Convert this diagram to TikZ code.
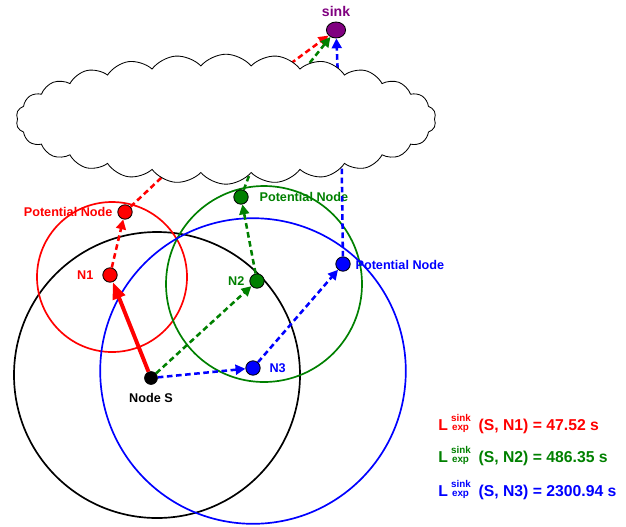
\documentclass[tikz,border=0pt]{standalone}
\usepackage{fontspec}
\setmainfont{Liberation Sans}
\usetikzlibrary{arrows.meta,shapes.symbols,shapes.geometric}

\definecolor{dkgreen}{RGB}{0,128,0}
\definecolor{sinkpurple}{RGB}{128,0,128}

\tikzset{
  sensor/.style={circle,draw=black,line width=0.6pt,minimum size=0.36cm,inner sep=0pt},
  hop/.style={line width=1.8pt,dash pattern=on 4pt off 2.5pt,-{Triangle[length=7pt,width=7pt]}},
  hoplink/.style={line width=1.8pt,dash pattern=on 4pt off 2.5pt},
  radiorange/.style={line width=1.2pt},
  lbl/.style={font=\bfseries\fontsize{9}{10}\selectfont},
  legendtxt/.style={anchor=west,inner sep=0pt,font=\bfseries\fontsize{11.2}{13}\selectfont}
}

% L with sink over exp
\newcommand{\Lexp}{L\hspace{0.2em}{\fontsize{7}{7}\selectfont\rlap{\raisebox{6.5pt}{sink}}\hspace{0.1em}exp\hspace{0.1em}}\hspace{0.55em}}

\begin{document}
\begin{tikzpicture}
    \useasboundingbox (0,0) rectangle (15.65,-13.15);

    % Draw the ranges
    \draw[radiorange,black] (3.925,-9.375) circle (3.575);
    \draw[radiorange,red] (2.8,-6.925) circle (1.875);
    \draw[radiorange,dkgreen] (6.6,-7.1) circle (2.45);
    \draw[radiorange,blue] (6.325,-9.275) circle (3.82);

    % Draw the nodes
    \node[sensor,fill=black,minimum size=0.32cm,label={[lbl,black,label distance=1mm]below:Node S}] (S) at (3.775,-9.45) {};
    \node[sensor,fill=red,label={[lbl,red,label distance=1mm]left:N1}] (N1) at (2.75,-6.875) {};
    \node[sensor,fill=red,label={[lbl,red]left:Potential Node}] (P1) at (3.125,-5.3) {};
    \node[sensor,fill=dkgreen,label={[lbl,dkgreen]left:N2}] (N2) at (6.425,-7.025) {};
    \node[sensor,fill=dkgreen,label={[lbl,dkgreen,label distance=1.5mm]right:Potential Node}] (P2) at (6.025,-4.925) {};
    \node[sensor,fill=blue,label={[lbl,blue,label distance=1mm]right:N3}] (N3) at (6.325,-9.2) {};
    \node[sensor,fill=blue,label={[lbl,blue,yshift=-1pt]right:Potential Node}] (P3) at (8.575,-6.6) {};
    \node[ellipse,draw=black,line width=0.6pt,fill=sinkpurple,minimum width=0.48cm,minimum height=0.4cm,inner sep=0pt,
          label={[lbl,sinkpurple,font=\bfseries\fontsize{10}{11}\selectfont]above:sink}] (sink) at (8.4,-0.75) {};

    % Points hidden inside the cloud
    \coordinate (r1) at (4.45,-4.05);
    \coordinate (g1) at (6.3,-4.2);
    \coordinate (b1) at (8.54,-3.9);
    \coordinate (r2) at (6.9,-1.86);
    \coordinate (g2) at (7.6,-1.75);
    \coordinate (b2) at (8.45,-1.95);

    % Red route
    \draw[red,line width=2.8pt,-{Triangle[length=12pt,width=9pt]}] (S) -- (N1);
    \draw[hop,red] (N1) -- (P1);
    \draw[hoplink,red] (P1) -- (r1);
    \draw[hop,red] (r2) -- (sink);

    % Green route
    \draw[hop,dkgreen] (S) -- (N2);
    \draw[hop,dkgreen] (N2) -- (P2);
    \draw[hoplink,dkgreen] (P2) -- (g1);
    \draw[hop,dkgreen] (g2) -- (sink);

    % Blue route
    \draw[hop,blue] (S) -- (N3);
    \draw[hop,blue] (N3) -- (P3);
    \draw[hoplink,blue] (P3) -- (b1);
    \draw[hop,blue] (b2) -- (sink);

    % Draw the cloud
    \node[cloud,draw=black,fill=white,line width=0.6pt,cloud puffs=26,cloud puff arc=100,
          minimum width=10.5cm,minimum height=3.25cm] (cloud) at (5.65,-2.98) {};

    % Legend
    \node[legendtxt,red] (L1) at (10.95,-10.6) {\Lexp(S, N1) = 47.52 s};
    \node[legendtxt,dkgreen] (L2) at (10.95,-11.4) {\Lexp(S, N2) = 486.35 s};
    \node[legendtxt,blue] (L3) at (10.95,-12.25) {\Lexp(S, N3) = 2300.94 s};
\end{tikzpicture}
\end{document}
